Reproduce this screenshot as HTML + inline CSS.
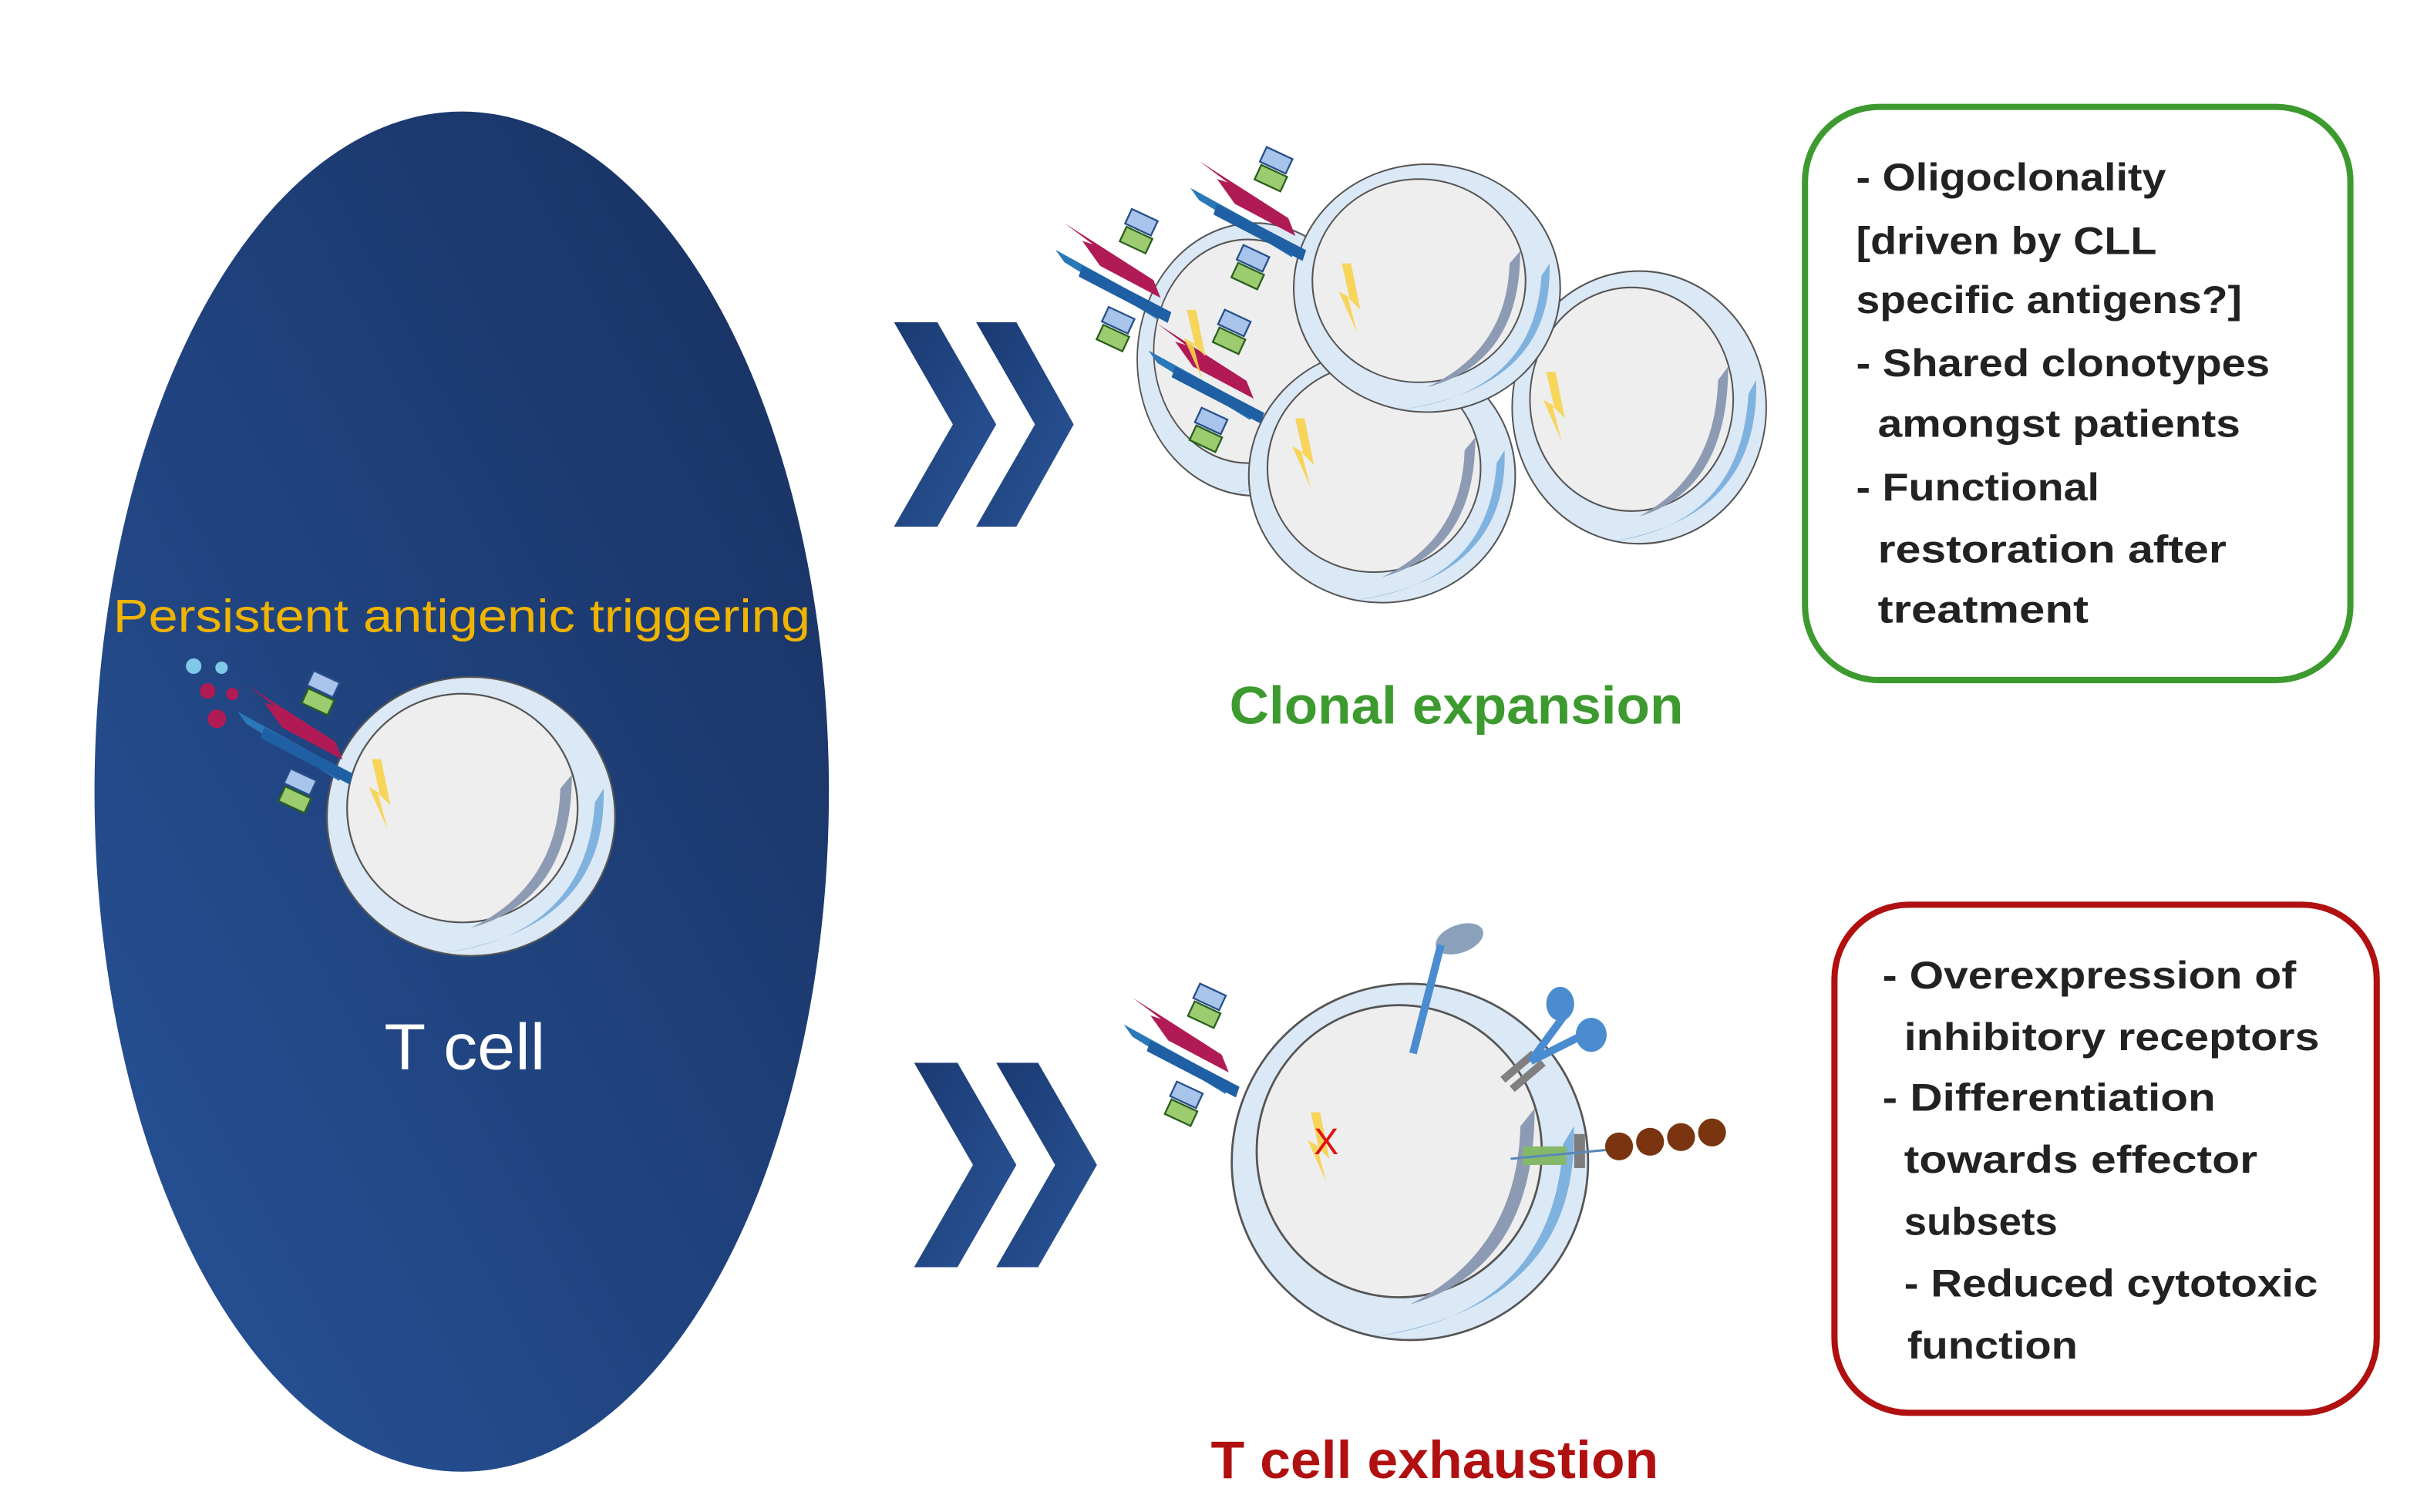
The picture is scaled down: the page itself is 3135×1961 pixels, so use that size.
<!DOCTYPE html>
<html><head><meta charset="utf-8"><style>
html,body{margin:0;padding:0;background:#fff;}
svg{display:block;}
text{font-family:"Liberation Sans",sans-serif;}
</style></head><body>
<svg width="3135" height="1961" viewBox="0 0 1560 976" preserveAspectRatio="none" xmlns="http://www.w3.org/2000/svg">
<defs>
<linearGradient id="bg" x1="1" y1="0" x2="0" y2="1">
<stop offset="0" stop-color="#182f5e"/><stop offset="1" stop-color="#27549a"/>
</linearGradient>
<linearGradient id="chev" x1="0" y1="0" x2="1" y2="1">
<stop offset="0" stop-color="#1b3a72"/><stop offset="1" stop-color="#2a5598"/>
</linearGradient>
<g id="cell">
<ellipse cx="0" cy="0" rx="100" ry="100" fill="#dbe8f5" stroke="#555" stroke-width="1.2"/>
<ellipse cx="-6" cy="-6" rx="80" ry="82" fill="#eeeeee" stroke="#555" stroke-width="1.2"/>
<path d="M70 -30 Q70 60 0 80 Q60 50 62 -20 Z" fill="#8c9bb3"/>
<path d="M92 -20 Q95 80 -20 98 Q80 85 86 -10 Z" fill="#7fb2de"/>
</g>
<g id="rec0">
<polygon points="-60,-40 -10,-8 -6,2 -40,-16 -50,-30 -44,-28" fill="#b01a55"/>
<polygon points="-65,-25 -5,8 -8,14 -60,-18" fill="#2a78b8"/>
<polygon points="-50,-16 0,10 -2,16 -52,-10" fill="#1f5fa3"/>
<rect x="-25" y="-45" width="16" height="9" fill="#a9c4ea" stroke="#264f8a" transform="rotate(25 -17 -40)"/>
<rect x="-28" y="-35" width="16" height="9" fill="#9ccc6f" stroke="#2b5f20" transform="rotate(25 -20 -30)"/>
<rect x="-38" y="10" width="16" height="9" fill="#a9c4ea" stroke="#264f8a" transform="rotate(25 -30 15)"/>
<rect x="-41" y="20" width="16" height="9" fill="#9ccc6f" stroke="#2b5f20" transform="rotate(25 -33 25)"/>
</g>
<g id="rec"><use href="#rec0" transform="scale(1.15)"/></g>
<g id="bolt"><polygon points="0,0 6,0 12,30 4,22 10,45 -2,18 5,22" fill="#f7d24a" opacity="0.9"/></g>
</defs>

<ellipse cx="298" cy="511" rx="237" ry="439" fill="url(#bg)"/>

<text x="73" y="408" font-size="30" fill="#f0b400" textLength="450" lengthAdjust="spacingAndGlyphs">Persistent antigenic triggering</text>

<g transform="translate(304,527) scale(0.93,0.9)"><use href="#cell"/></g>
<g transform="translate(228,488)"><use href="#rec"/></g>
<use href="#bolt" transform="translate(240,490)"/>
<circle cx="125" cy="430" r="5" fill="#7fc8e8"/><circle cx="143" cy="431" r="4" fill="#7fc8e8"/>
<circle cx="134" cy="446" r="5" fill="#b01a55"/><circle cx="150" cy="448" r="4" fill="#b01a55"/>
<circle cx="140" cy="464" r="6" fill="#b01a55"/>
<text x="300" y="690" font-size="42" fill="#fff" text-anchor="middle" textLength="104" lengthAdjust="spacingAndGlyphs">T cell</text>

<polygon points="577,208 605,208 643,274 605,340 577,340 615,274" fill="url(#chev)"/>
<polygon points="630,208 656,208 693,274 656,340 630,340 668,274" fill="url(#chev)"/>
<polygon points="590,686 618,686 656,752 618,818 590,818 628,752" fill="url(#chev)"/>
<polygon points="643,686 670,686 708,752 670,818 643,818 681,752" fill="url(#chev)"/>

<g transform="translate(810,232) scale(0.76,0.88)"><use href="#cell"/></g>
<g transform="translate(1058,263) scale(0.82,0.88)"><use href="#cell"/></g>
<g transform="translate(892,307) scale(0.86,0.82)"><use href="#cell"/></g>
<g transform="translate(921,186) scale(0.86,0.8)"><use href="#cell"/></g>
<g transform="translate(756,190)"><use href="#rec"/></g>
<g transform="translate(843,150)"><use href="#rec"/></g>
<g transform="translate(816,255)"><use href="#rec"/></g>
<use href="#bolt" transform="translate(766,200)"/>
<use href="#bolt" transform="translate(866,170)"/>
<use href="#bolt" transform="translate(836,270)"/>
<use href="#bolt" transform="translate(998,240)"/>
<text x="940" y="467" font-size="34" font-weight="bold" fill="#3c9a2e" text-anchor="middle" textLength="293" lengthAdjust="spacingAndGlyphs">Clonal expansion</text>

<ellipse cx="942" cy="606" rx="16" ry="9" fill="#8aa0bb" transform="rotate(-20 942 606)"/>
<g transform="translate(910,750) scale(1.15,1.15)"><use href="#cell"/></g>
<line x1="912" y1="680" x2="930" y2="610" stroke="#4a8ccf" stroke-width="5"/>
<line x1="970" y1="697" x2="990" y2="680" stroke="#808080" stroke-width="5"/>
<line x1="976" y1="703" x2="996" y2="686" stroke="#808080" stroke-width="5"/>
<line x1="988" y1="685" x2="1010" y2="655" stroke="#4a8ccf" stroke-width="5"/>
<line x1="988" y1="685" x2="1022" y2="668" stroke="#4a8ccf" stroke-width="5"/>
<ellipse cx="1007" cy="648" rx="9" ry="11" fill="#4a8ccf"/>
<ellipse cx="1027" cy="668" rx="10" ry="11" fill="#4a8ccf"/>
<rect x="983" y="740" width="28" height="12" fill="#86b86a"/>
<rect x="1016" y="732" width="7" height="22" fill="#7d7d7d"/>
<line x1="975" y1="748" x2="1040" y2="742" stroke="#5a88b8" stroke-width="1.5"/>
<circle cx="1045" cy="740" r="9" fill="#7a3510"/><circle cx="1065" cy="737" r="9" fill="#7a3510"/>
<circle cx="1085" cy="734" r="9" fill="#7a3510"/><circle cx="1105" cy="731" r="9" fill="#7a3510"/>
<g transform="translate(800,690)"><use href="#rec"/></g>
<use href="#bolt" transform="translate(846,718)"/>
<text x="856" y="745" font-size="24" fill="#e01010" text-anchor="middle">X</text>
<text x="926" y="954" font-size="34" font-weight="bold" fill="#b01010" text-anchor="middle" textLength="289" lengthAdjust="spacingAndGlyphs">T cell exhaustion</text>

<rect x="1165" y="69" width="352" height="370" rx="48" fill="#fff" stroke="#3c9a2e" stroke-width="4"/>
<g font-size="25" font-weight="bold" fill="#222">
<text x="1198" y="123" textLength="200" lengthAdjust="spacingAndGlyphs">- Oligoclonality</text>
<text x="1198" y="164" textLength="194" lengthAdjust="spacingAndGlyphs">[driven by CLL</text>
<text x="1198" y="202" textLength="249" lengthAdjust="spacingAndGlyphs">specific antigens?]</text>
<text x="1198" y="243" textLength="267" lengthAdjust="spacingAndGlyphs">- Shared clonotypes</text>
<text x="1212" y="282" textLength="234" lengthAdjust="spacingAndGlyphs">amongst patients</text>
<text x="1198" y="323" textLength="157" lengthAdjust="spacingAndGlyphs">- Functional</text>
<text x="1212" y="363" textLength="225" lengthAdjust="spacingAndGlyphs">restoration after</text>
<text x="1212" y="402" textLength="136" lengthAdjust="spacingAndGlyphs">treatment</text>
</g>

<rect x="1184" y="584" width="350" height="328" rx="48" fill="#fff" stroke="#b01010" stroke-width="4"/>
<g font-size="25" font-weight="bold" fill="#222">
<text x="1215" y="638" textLength="267" lengthAdjust="spacingAndGlyphs">- Overexpression of</text>
<text x="1229" y="678" textLength="268" lengthAdjust="spacingAndGlyphs">inhibitory receptors</text>
<text x="1215" y="717" textLength="215" lengthAdjust="spacingAndGlyphs">- Differentiation</text>
<text x="1229" y="757" textLength="228" lengthAdjust="spacingAndGlyphs">towards effector</text>
<text x="1229" y="797" textLength="99" lengthAdjust="spacingAndGlyphs">subsets</text>
<text x="1229" y="837" textLength="267" lengthAdjust="spacingAndGlyphs">- Reduced cytotoxic</text>
<text x="1231" y="877" textLength="110" lengthAdjust="spacingAndGlyphs">function</text>
</g>
</svg>
</body></html>
